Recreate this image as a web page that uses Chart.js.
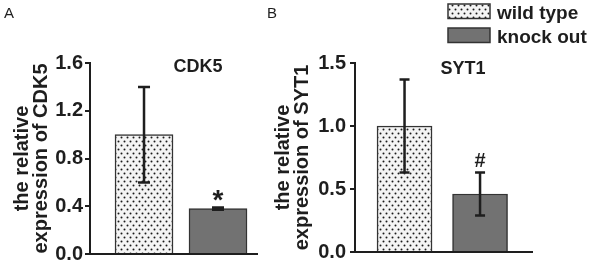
<!DOCTYPE html>
<html>
<head>
<meta charset="utf-8">
<script src="https://cdn.jsdelivr.net/npm/chart.js@4.4.1/dist/chart.umd.min.js"></script>
<style>
  html, body { margin: 0; padding: 0; background: #fff; }
  #wrap { position: relative; width: 595px; height: 268px; }
  canvas { position: absolute; top: 0; }
  #chartA { left: 0; }
  #chartB { left: 262px; }
</style>
</head>
<body>
<div id="wrap">
  <canvas id="chartA" width="262" height="268"></canvas>
  <canvas id="chartB" width="333" height="268"></canvas>
</div>
<script>
// data
const groups = ["wild type", "knock out"];
const cdk5Mean = [1.0, 0.38];
const cdk5Err = [0.40, 0.01];
const cdk5Marks = ["", "*"];
const syt1Mean = [1.0, 0.46];
const syt1Err = [0.37, 0.17];
const syt1Marks = ["", "#"];
const cdk5Ticks = [0, 0.4, 0.8, 1.2, 1.6];
const syt1Ticks = [0, 0.5, 1.0, 1.5];

const FONT = "'Liberation Sans', Arial, Helvetica, sans-serif";
const INK = "#1e1e1e";

// dotted fill used for the wild type bars
function dotPattern() {
    const c = document.createElement("canvas");
    c.width = 6; c.height = 8;
    const g = c.getContext("2d");
    g.fillStyle = "#f4f4f4";
    g.fillRect(0, 0, 6, 8);
    g.fillStyle = "#1a1a1a";
    g.beginPath(); g.arc(1.5, 1.5, 1.0, 0, Math.PI * 2); g.fill();
    g.beginPath(); g.arc(4.5, 5.5, 1.0, 0, Math.PI * 2); g.fill();
    return g.createPattern(c, "repeat");
}

const fills = [dotPattern(), "#727272"];

const decor = {
    id: "decor",
    afterDatasetsDraw(chart, args, opts) {
        const ctx = chart.ctx;
        const y = chart.scales.y;
        const ds = chart.data.datasets[0];
        const meta = chart.getDatasetMeta(0);
        ctx.save();
        // error bars
        meta.data.forEach((bar, i) => {
            const v = ds.data[i].y, e = ds.errors[i];
            const top = y.getPixelForValue(v + e);
            const bot = y.getPixelForValue(v - e);
            const half = opts.cap / 2;
            ctx.strokeStyle = INK;
            ctx.lineWidth = 2.5;
            ctx.beginPath();
            ctx.moveTo(bar.x, top); ctx.lineTo(bar.x, bot);
            ctx.moveTo(bar.x - half, top); ctx.lineTo(bar.x + half, top);
            ctx.moveTo(bar.x - half, bot); ctx.lineTo(bar.x + half, bot);
            ctx.stroke();
            const m = ds.marks[i];
            if (m) {
                ctx.font = "bold " + opts.markSize + "px " + FONT;
                ctx.fillStyle = INK;
                ctx.textAlign = "center";
                ctx.textBaseline = "alphabetic";
                const d = ctx.measureText(m).actualBoundingBoxDescent || 0;
                ctx.fillText(m, bar.x, top - 6 - d);
            }
        });
        // panel letter
        ctx.font = "15px " + FONT;
        ctx.fillStyle = INK;
        ctx.textAlign = "left";
        ctx.textBaseline = "alphabetic";
        ctx.fillText(opts.letter, opts.letterX, 18);
        // gene name
        ctx.font = "bold 18px " + FONT;
        ctx.textAlign = "center";
        ctx.fillText(opts.title, opts.titleX, opts.titleY);
        // legend
        if (opts.legend) {
            groups.forEach((g, i) => {
                const by = 4 + i * 24;
                ctx.fillStyle = fills[i];
                ctx.fillRect(186, by, 42, 14.5);
                ctx.strokeStyle = "#333";
                ctx.lineWidth = 1.5;
                ctx.strokeRect(186, by, 42, 14.5);
                ctx.fillStyle = INK;
                ctx.font = "bold 19px " + FONT;
                ctx.textAlign = "left";
                ctx.fillText(g, 235, by + 15);
            });
        }
        ctx.restore();
    }
};

function makeChart(id, means, errs, marks, ticks, cfg) {
    const ctx = document.getElementById(id).getContext("2d");
    return new Chart(ctx, {
        type: "bar",
        data: {
            datasets: [{
                data: groups.map((g, i) => ({ x: i + 1, y: means[i] })),
                errors: errs,
                marks: marks,
                backgroundColor: fills,
                borderColor: "#333",
                borderWidth: 1.5,
                barThickness: cfg.barW
            }]
        },
        options: {
            responsive: false,
            animation: false,
            layout: { padding: { left: 0, right: cfg.padRight, top: 63, bottom: 14 } },
            scales: {
                x: {
                    type: "linear",
                    offset: false,
                    min: cfg.xMin,
                    max: cfg.xMax,
                    ticks: { display: false },
                    grid: { display: false },
                    border: { display: true, color: INK, width: 2 },
                    afterFit: (s) => { s.height = 0; }
                },
                y: {
                    min: 0,
                    max: ticks[ticks.length - 1],
                    afterBuildTicks: (s) => { s.ticks = ticks.map(v => ({ value: v })); },
                    ticks: {
                        callback: (v) => Number(v).toFixed(1),
                        color: INK,
                        padding: cfg.tickPad,
                        font: { family: FONT, size: 20, weight: "bold" }
                    },
                    grid: { drawOnChartArea: false, drawTicks: true, tickLength: 5, color: INK, lineWidth: 2 },
                    border: { display: true, color: INK, width: 2 },
                    title: {
                        display: true,
                        text: ["the relative", "expression of " + cfg.title],
                        color: INK,
                        padding: { top: cfg.titlePad, bottom: 0 },
                        font: { family: FONT, size: 20, weight: "bold", lineHeight: 0.95 }
                    },
                    afterFit: (s) => { s.width = cfg.axisW; }
                }
            },
            plugins: {
                legend: { display: false },
                tooltip: { enabled: false },
                decor: {
                    cap: cfg.cap,
                    markSize: cfg.markSize,
                    letter: cfg.letter,
                    letterX: cfg.letterX,
                    title: cfg.title,
                    titleX: cfg.titleX,
                    titleY: cfg.titleY,
                    legend: cfg.legend
                }
            }
        },
        plugins: [decor]
    });
}

makeChart("chartA", cdk5Mean, cdk5Err, cdk5Marks, cdk5Ticks, {
    title: "CDK5", letter: "A", letterX: 4, titleX: 198, titleY: 72,
    axisW: 90, padRight: 5, xMin: 0.27, xMax: 2.527, barW: 58,
    tickPad: 2, titlePad: 13, cap: 12, markSize: 28, legend: false
});

makeChart("chartB", syt1Mean, syt1Err, syt1Marks, syt1Ticks, {
    title: "SYT1", letter: "B", letterX: 5, titleX: 201, titleY: 74,
    axisW: 93, padRight: 63, xMin: 0.344, xMax: 2.688, barW: 55,
    tickPad: 4, titlePad: 11.5, cap: 10, markSize: 20, legend: true
});
</script>
</body>
</html>
